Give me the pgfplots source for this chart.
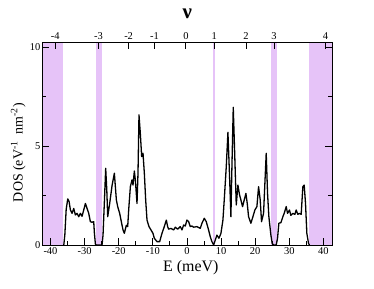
\documentclass[border=0pt]{standalone}
\usepackage{pgfplots}
\pgfplotsset{compat=1.18}
\usepackage{fontspec}
\setmainfont{Liberation Serif}
\definecolor{bandc}{RGB}{230,195,248}
\begin{document}
\begin{tikzpicture}
\useasboundingbox (-42.3bp,-44bp) rectangle (331.7bp,245bp);
\begin{axis}[
  scale only axis, width=290bp, height=202.7bp,
  xmin=-42.4, xmax=42.6, ymin=0, ymax=10.25,
  axis on top,
  axis line style={line width=0.9bp},
  tick align=inside,
  xtick pos=bottom, ytick pos=both,
  xtick={-40,-30,-20,-10,0,10,20,30,40},
  xticklabels={-40,-30,-20,-10,0,10,20,30,40},
  minor xtick={-35,-25,-15,-5,5,15,25,35},
  ytick={0,5,10}, yticklabels={0,5,10},
  minor ytick={2.5,7.5},
  major tick length=7bp, minor tick length=4bp,
  every tick/.style={line width=0.9bp, black},
  tick label style={font=\fontsize{10.5}{12}\selectfont},
  xticklabel style={yshift=1bp},
  yticklabel style={xshift=1.5bp},
  xlabel={E (meV)},
  xlabel style={at={(axis description cs:0.512,-0.113)}, anchor=center, font=\fontsize{16}{18}\selectfont},
  ylabel={DOS (eV\textsuperscript{-1}\ \ nm\textsuperscript{-2})},
  ylabel style={at={(axis description cs:-0.083,0.456)}, anchor=center, font=\fontsize{14}{16}\selectfont},
]
\addplot[fill=bandc, draw=none] coordinates {(-42.4,0) (-36.31,0) (-36.31,10.25) (-42.4,10.25)} -- cycle;
\addplot[fill=bandc, draw=none] coordinates {(-26.65,0) (-24.89,0) (-24.89,10.25) (-26.65,10.25)} -- cycle;
\addplot[fill=bandc, draw=none] coordinates {(7.61,0) (8.3,0) (8.3,10.25) (7.61,10.25)} -- cycle;
\addplot[fill=bandc, draw=none] coordinates {(24.65,0) (26.35,0) (26.35,10.25) (24.65,10.25)} -- cycle;
\addplot[fill=bandc, draw=none] coordinates {(35.82,0) (42.6,0) (42.6,10.25) (35.82,10.25)} -- cycle;
\addplot[black, line width=1.3bp, line join=round] coordinates {
(-36.31,0) (-36.1,0.0) (-35.8,0.5) (-35.4,1.8) (-34.94,2.33) (-34.55,2.2)
(-34.16,1.77) (-33.67,1.6) (-33.19,1.85) (-32.70,1.52) (-32.21,1.6) (-31.72,1.43)
(-31.23,1.6) (-30.75,1.45) (-30.26,1.77) (-29.77,2.1) (-29.28,1.85) (-28.79,1.6)
(-28.31,1.18) (-27.82,1.15) (-27.33,1.18) (-27.13,0.6) (-26.84,0.05) (-26.65,0)
(-24.89,0) (-24.6,0.5) (-24.2,2.2) (-23.82,3.88) (-23.5,2.8) (-23.23,1.43)
(-22.65,2.1) (-21.96,3.0) (-21.28,3.63) (-20.69,2.28) (-20.30,1.94) (-19.72,1.6)
(-19.33,1.26) (-18.74,0.76) (-18.35,0.59) (-17.77,1.0) (-17.37,0.93) (-17.08,1.77)
(-16.59,2.95) (-16.11,3.29) (-15.81,3.03) (-15.42,3.74) (-15.13,3.29) (-14.64,2.1)
(-14.35,3.63) (-14.06,6.58) (-13.67,5.65) (-13.27,4.47) (-12.88,4.64) (-12.49,3.63)
(-12.10,2.28) (-11.71,1.26) (-11.13,0.93) (-10.54,0.76) (-9.96,0.59) (-9.57,0.34)
(-8.78,0.17) (-8.00,0.17) (-7.32,0.59) (-6.64,0.93) (-6.05,1.26) (-5.66,0.93)
(-5.37,0.8) (-4.69,0.84) (-3.90,0.76) (-3.42,0.9) (-2.73,0.8) (-1.95,0.93)
(-1.46,0.76) (-0.98,1.01) (-0.49,0.96) (0,1.26) (0.49,1.18) (0.98,0.93)
(1.46,0.96) (1.95,0.9) (2.93,0.93) (3.90,0.84) (4.39,1.1) (5.08,1.35)
(5.66,1.18) (6.34,0.76) (6.83,0.42) (7.32,0.17) (7.81,0.0) (8.30,0.25)
(8.78,0.5) (9.37,0.34) (9.96,0.59) (10.54,1.26) (10.93,2.28) (11.52,3.96)
(12.01,5.7) (12.49,3.46) (12.88,1.43) (13.18,3.96) (13.57,6.96) (13.96,4.8)
(14.45,2.02) (14.93,3.03) (15.42,2.53) (15.81,2.28) (16.30,1.94) (16.79,2.28)
(17.28,2.61) (17.67,2.1) (18.06,1.43) (18.74,1.1) (19.33,1.43) (19.91,1.77)
(20.50,1.94) (20.99,2.95) (21.47,2.28) (21.86,1.18) (22.45,1.6) (22.84,3.12)
(23.23,4.64) (23.62,2.61) (24.01,1.43) (24.60,0.5) (24.99,0.08) (25.38,0)
(26.16,0) (26.55,0.34) (26.94,1.1) (27.53,1.13) (28.11,1.43) (28.50,1.6)
(29.09,1.94) (29.48,1.6) (30.06,1.77) (30.45,1.5) (31.04,1.6) (31.63,1.55)
(32.02,1.77) (32.50,1.55) (32.99,1.6) (33.48,1.55) (33.97,2.95) (34.36,3.03)
(34.75,2.1) (35.14,0.59) (35.63,0.08) (35.92,0)
};
\end{axis}
\begin{axis}[
  scale only axis, width=290bp, height=202.7bp,
  xmin=-42.4, xmax=42.6, ymin=0, ymax=10.25,
  axis x line*=top, hide y axis,
  axis line style={line width=0.9bp},
  tick align=inside,
  xtick={-38.6,-25.9,-17.1,-9.5,-0.3,8.0,17.3,25.5,40.6},
  xticklabels={-4,-3,-2,-1,0,1,2,3,4},
  major tick length=7bp,
  every tick/.style={line width=0.9bp, black},
  tick label style={font=\fontsize{10.5}{12}\selectfont},
  xticklabel style={yshift=-1bp},
  xlabel={\textbf{ν}},
  xlabel style={at={(axis description cs:0.5,1.143)}, anchor=center, font=\fontsize{21}{22}\selectfont},
]
\addplot[draw=none] coordinates {(0,0)};
\end{axis}
\end{tikzpicture}
\end{document}
